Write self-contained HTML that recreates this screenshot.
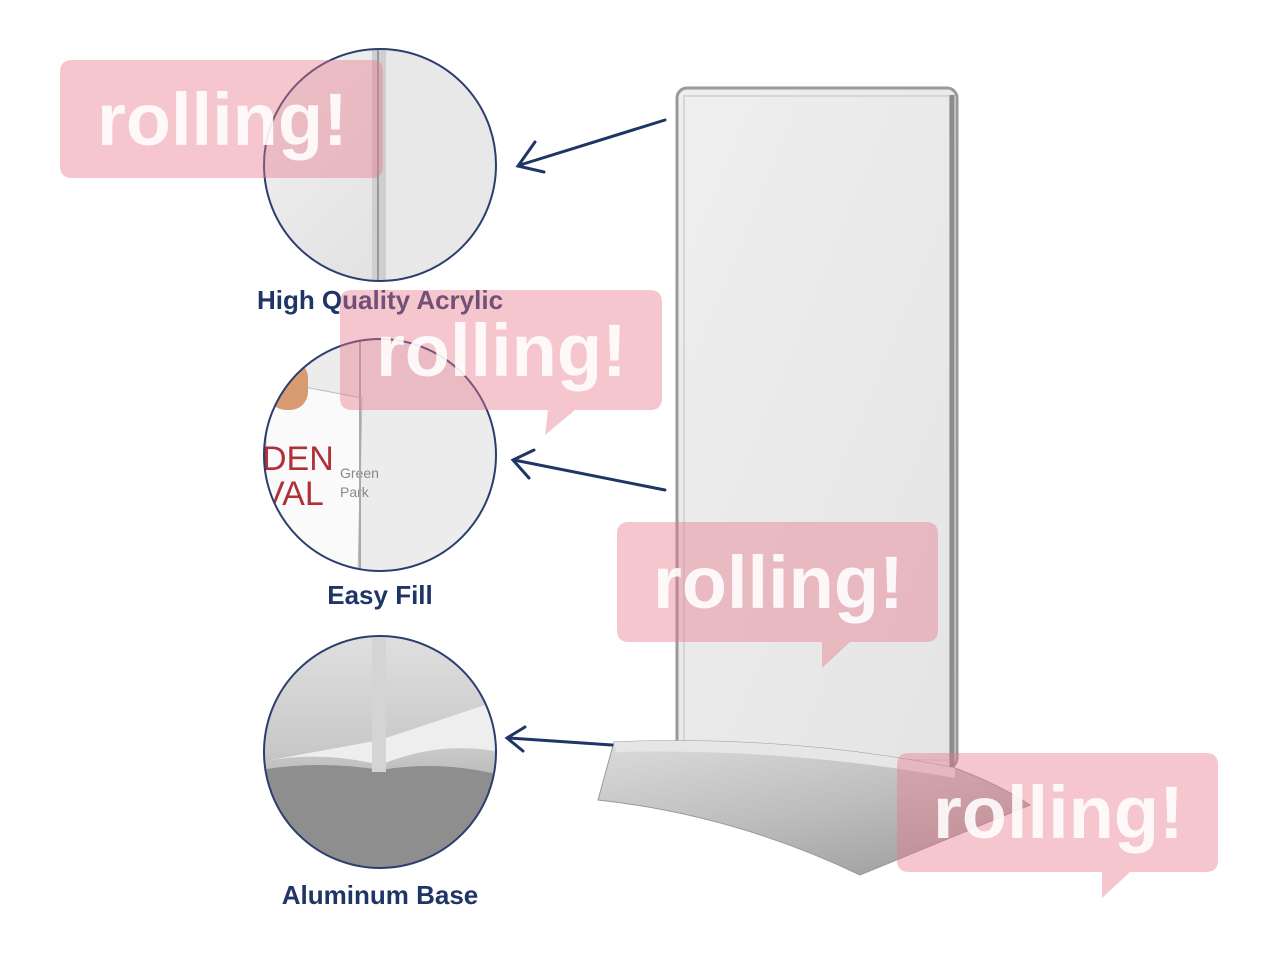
<!DOCTYPE html>
<html><head><meta charset="utf-8"><style>
html,body{margin:0;padding:0;background:#fff;}
svg{display:block}
text{font-family:"Liberation Sans",sans-serif;}
</style></head><body>
<svg width="1280" height="960" viewBox="0 0 1280 960" xmlns="http://www.w3.org/2000/svg">
<defs>
<linearGradient id="panel" x1="0" y1="0" x2="1" y2="1">
<stop offset="0" stop-color="#efefef"/><stop offset="1" stop-color="#e4e4e4"/></linearGradient>
<linearGradient id="base" x1="0" y1="0" x2="0.6" y2="1">
<stop offset="0" stop-color="#dcdcdc"/><stop offset="0.6" stop-color="#bdbdbd"/><stop offset="1" stop-color="#a5a5a5"/></linearGradient>
<linearGradient id="c1" x1="0" y1="0" x2="1" y2="1">
<stop offset="0" stop-color="#f2f2f2"/><stop offset="1" stop-color="#dcdcdc"/></linearGradient>
<linearGradient id="c3" x1="0" y1="0" x2="0" y2="1">
<stop offset="0" stop-color="#e0e0e0"/><stop offset="0.5" stop-color="#c8c8c8"/><stop offset="1" stop-color="#8a8a8a"/></linearGradient>
<clipPath id="cl1"><circle cx="380" cy="165" r="116"/></clipPath>
<clipPath id="cl2"><circle cx="380" cy="455" r="116"/></clipPath>
<clipPath id="cl3"><circle cx="380" cy="752" r="116"/></clipPath>
</defs>

<rect x="677" y="88" width="280" height="680" rx="10" fill="url(#panel)" stroke="#9a9a9a" stroke-width="3"/>
<rect x="684" y="96" width="266" height="664" fill="none" stroke="#d6d6d6" stroke-width="2"/>
<line x1="952" y1="95" x2="952" y2="800" stroke="#8c8c8c" stroke-width="5"/>
<!-- base -->
<path d="M614,742 Q790,735 955,768 Q1000,785 1030,805 L860,875 Q735,815 598,800 Z" fill="url(#base)" stroke="#999" stroke-width="1"/>
<path d="M614,742 Q790,735 955,768 L955,778 Q790,748 616,752 Z" fill="#e6e6e6"/>

<g clip-path="url(#cl1)">
<rect x="260" y="45" width="240" height="240" fill="url(#c1)"/>
<rect x="372" y="45" width="14" height="240" fill="#cfcfcf"/>
<line x1="378" y1="45" x2="378" y2="285" stroke="#9a9a9a" stroke-width="2"/>
<rect x="386" y="45" width="120" height="240" fill="#e8e8e8"/>
</g>
<circle cx="380" cy="165" r="116" fill="none" stroke="#2b3e6e" stroke-width="2"/>

<g clip-path="url(#cl2)">
<rect x="260" y="335" width="240" height="240" fill="#ececec"/>
<polygon points="268,380 362,398 358,575 262,575" fill="#fafafa" stroke="#bbb"/>
<text x="262" y="470" font-size="34" fill="#b0303a" font-family="Liberation Serif,serif">DEN</text>
<text x="262" y="505" font-size="34" fill="#b0303a" font-family="Liberation Serif,serif">VAL</text>
<text x="340" y="478" font-size="14" fill="#888">Green</text>
<text x="340" y="497" font-size="14" fill="#888">Park</text>
<rect x="268" y="360" width="40" height="50" rx="18" fill="#d89a70"/>
<line x1="360" y1="335" x2="360" y2="575" stroke="#aaa" stroke-width="2"/>
</g>
<circle cx="380" cy="455" r="116" fill="none" stroke="#2b3e6e" stroke-width="2"/>

<g clip-path="url(#cl3)">
<rect x="260" y="632" width="240" height="240" fill="url(#c3)"/>
<path d="M260,762 Q320,750 380,765 Q440,740 500,752 L500,700 Q440,720 380,740 Z" fill="#eeeeee"/>
<path d="M260,770 Q320,760 380,770 Q440,760 500,775 L500,872 L260,872 Z" fill="#8e8e8e"/>
<rect x="372" y="632" width="14" height="140" fill="#d4d4d4"/>
</g>
<circle cx="380" cy="752" r="116" fill="none" stroke="#2b3e6e" stroke-width="2"/>

<g font-weight="bold" fill="#1f3566" font-size="26" text-anchor="middle">
<text x="380" y="309">High Quality Acrylic</text>
<text x="380" y="604">Easy Fill</text>
<text x="380" y="904">Aluminum Base</text>
</g>

<g stroke="#1f3566" stroke-width="3" fill="none" stroke-linecap="round">
<line x1="665" y1="120" x2="520" y2="165"/><polyline points="535,142 518,166 544,172"/>
<line x1="665" y1="490" x2="514" y2="460"/><polyline points="534,450 513,460 529,478"/>
<line x1="612" y1="745" x2="509" y2="738"/><polyline points="525,727 507,738 523,751"/>
</g>

<g fill="rgba(232,120,138,0.42)">
<path d="M72,60 H372 Q383,60 383,72 V166 Q383,178 372,178 H72 Q60,178 60,166 V72 Q60,60 72,60 Z"/>
<path d="M352,290 H650 Q662,290 662,302 V398 Q662,410 650,410 H575 L545,435 L548,410 H352 Q340,410 340,398 V302 Q340,290 352,290 Z"/>
<path d="M629,522 H926 Q938,522 938,534 V630 Q938,642 926,642 H850 L822,668 L822,642 H629 Q617,642 617,630 V534 Q617,522 629,522 Z"/>
<path d="M909,753 H1206 Q1218,753 1218,765 V860 Q1218,872 1206,872 H1130 L1102,898 L1102,872 H909 Q897,872 897,860 V765 Q897,753 909,753 Z"/>
</g>
<g font-size="74" font-weight="bold" fill="rgba(255,255,255,0.88)">
<text x="97" y="145">rolling!</text>
<text x="376" y="376">rolling!</text>
<text x="653" y="608">rolling!</text>
<text x="933" y="838">rolling!</text>
</g>
</svg>
</body></html>
